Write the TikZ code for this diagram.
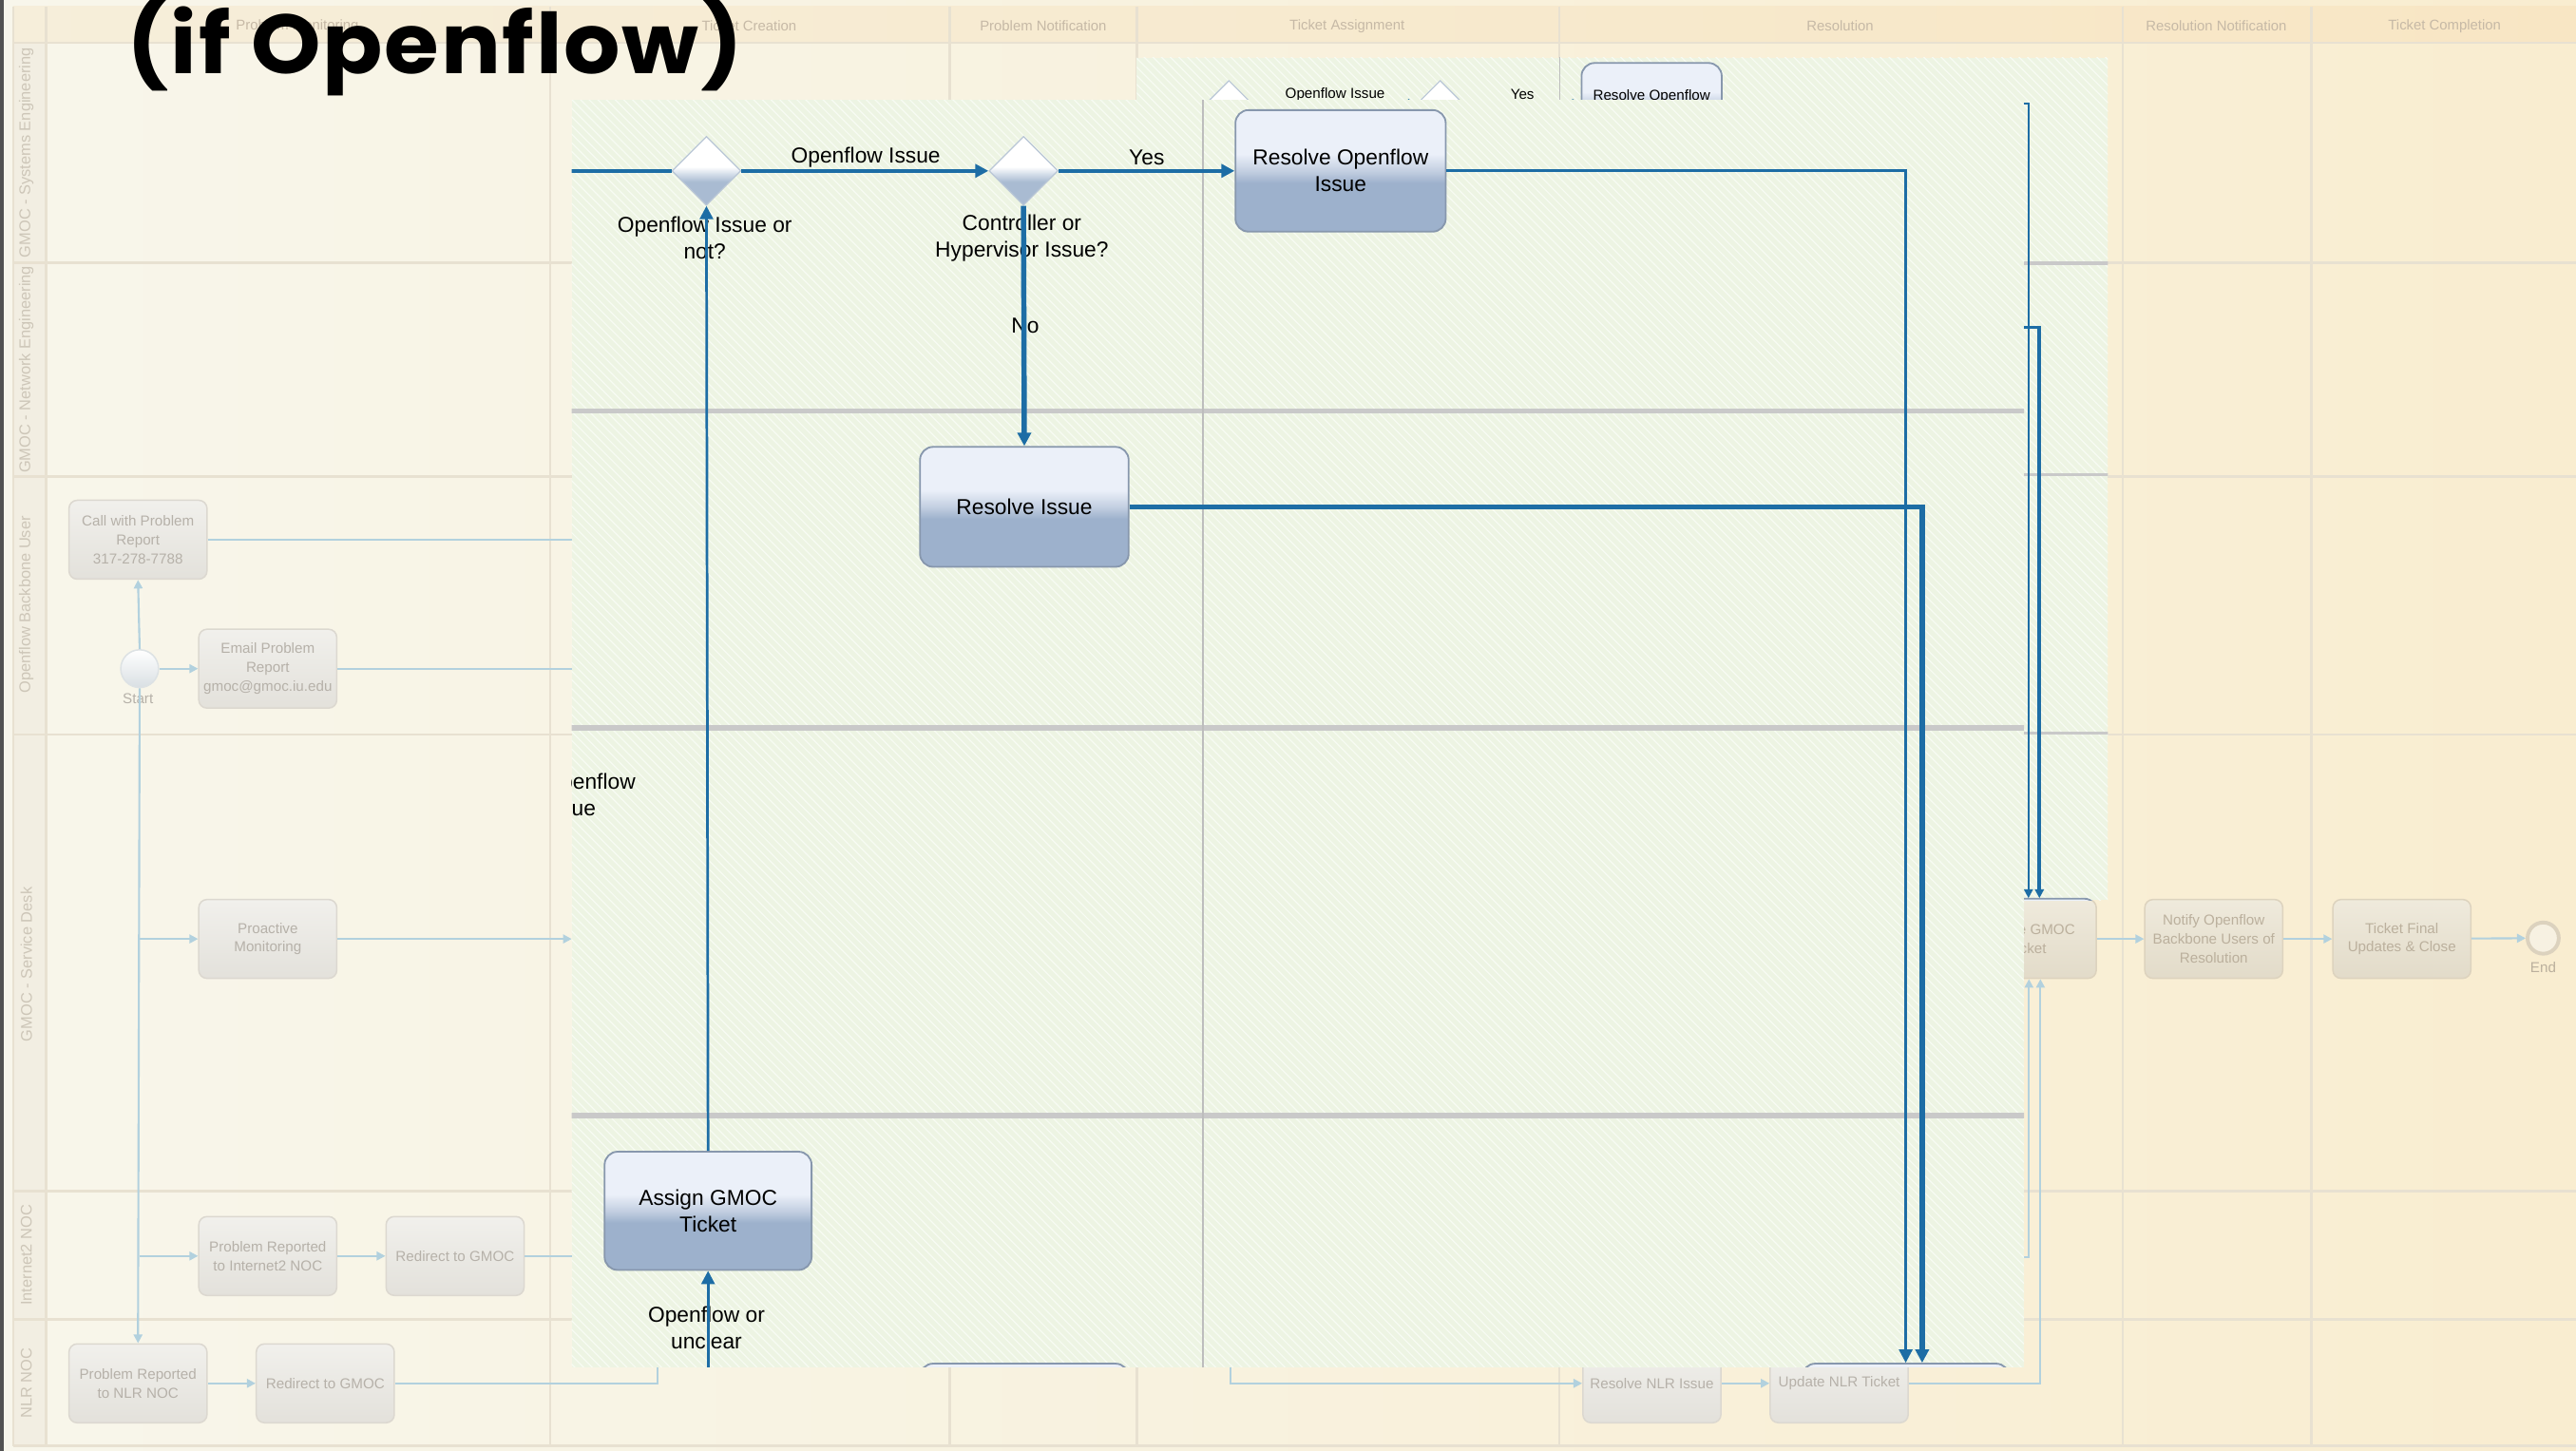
\documentclass[tikz,border=0pt]{standalone}
\usepackage{fontspec}
\setmainfont{Liberation Sans}
\newfontfamily\titlefont{Poppins}[FakeStretch=1.06, LetterSpace=2]
\usetikzlibrary{arrows.meta,shapes.geometric,patterns}

\definecolor{creamL}{HTML}{F8F6EB}
\definecolor{creamR}{HTML}{F9EDD0}
\definecolor{headL}{HTML}{F6EEDA}
\definecolor{headR}{HTML}{F8E6C4}
\definecolor{laneline}{HTML}{E8E1D1}
\definecolor{lanecol}{HTML}{F2EEE2}
\definecolor{lanetext}{HTML}{CDC6B8}
\definecolor{headtext}{HTML}{C6B9A6}
\definecolor{fadeTop}{HTML}{F1F0EC}
\definecolor{fadeBot}{HTML}{E3E1DB}
\definecolor{fadeDraw}{HTML}{DCD8D0}
\definecolor{fadeText}{HTML}{B6B1A9}
\definecolor{fadeTopR}{HTML}{EFEADC}
\definecolor{fadeBotR}{HTML}{E2DBC9}
\definecolor{fadeDrawR}{HTML}{DDD3BE}
\definecolor{fadeTextR}{HTML}{BBB09D}
\definecolor{fadeLink}{HTML}{B2D1DE}
\definecolor{startBot}{HTML}{D9DFE3}
\definecolor{startEdge}{HTML}{DDE2E4}
\definecolor{endFill}{HTML}{F7F1E2}
\definecolor{endEdge}{HTML}{DCD2BE}
\definecolor{panelgreen}{HTML}{EDF4E3}
\definecolor{hatch}{HTML}{F7FBF3}
\definecolor{flowblue}{HTML}{1D6DA5}
\definecolor{gridgrey}{HTML}{C9C9C9}
\definecolor{colgrey}{HTML}{BDBDBD}
\definecolor{boxT}{HTML}{EBF0F9}
\definecolor{boxM}{HTML}{C3CFE1}
\definecolor{boxB}{HTML}{9DB1CC}
\definecolor{boxEdge}{HTML}{8797AD}
\definecolor{gateB}{HTML}{A9BBD2}
\definecolor{gateM}{HTML}{D6DFEA}
\definecolor{gateEdge}{HTML}{B9C6D6}

% task and gateway fills: light upper half, blue-grey lower half
\pgfdeclareverticalshading{taskshade}{100bp}{color(0bp)=(boxB); color(25bp)=(boxB); color(45bp)=(boxB); color(50bp)=(boxM); color(57bp)=(boxT); color(75bp)=(boxT); color(100bp)=(boxT)}
\pgfdeclareverticalshading{gateshade}{100bp}{color(0bp)=(gateB); color(25bp)=(gateB); color(42bp)=(gateB); color(48bp)=(gateM); color(53bp)=(white); color(75bp)=(white); color(100bp)=(white)}

\newcommand\flfont{\fontsize{7.5}{9.2}\selectfont}
\newcommand\fadefont{\fontsize{5}{6.5}\selectfont}

% the Openflow branch of the process, in the coordinates of the enlarged view;
% #1 scales the line widths and arrow tips, #2 = 1 draws every label
\newcommand\flowcontent[2]{%
  \pgfmathsetmacro\fcLane{1.7*#1}%
  \pgfmathsetmacro\fcCol{0.6*#1}%
  \pgfmathsetmacro\fcMain{1.15*#1}%
  \pgfmathsetmacro\fcThin{0.9*#1}%
  \pgfmathsetmacro\fcThick{1.8*#1}%
  \pgfmathsetmacro\fcTip{4.6*#1}%
  \foreach \yy in {250,443,679} {\draw[gridgrey, line width=\fcLane pt] (0,\yy) -- (1800,\yy);}
  \draw[colgrey, line width=\fcCol pt] (732,-200) -- (732,1100);
  % gateways
  \node[gate] (d1) at (430,104) {};
  \node[gate] (d2) at (623,104) {};
  % tasks
  \node[task, minimum width=25.6mm, minimum height=14.8mm] (rof) at (816,104) {Resolve Openflow\\Issue};
  \node[task, minimum width=25.4mm, minimum height=14.6mm] (ri) at (623.5,308.5) {\ifnum#2=1 Resolve Issue\fi};
  \node[task, minimum width=25.2mm, minimum height=14.4mm] (ag) at (431,737) {\ifnum#2=1 Assign GMOC\\Ticket\fi};
  \node[task, minimum width=25.2mm, minimum height=14.4mm] (ug) at (1160,866) {};
  \node[task, minimum width=25.4mm, minimum height=14.4mm] (bb) at (623.5,866) {};
  \coordinate (fin) at (300,104);
  \coordinate (agin) at (431,900);
  % labels
  \node[flab] at (527,96) {Openflow Issue};
  \node[flab] at (698,96) {Yes};
  \ifnum#2=1
  \node[flab] at (429,145) {Openflow Issue or\\not?};
  \node[flab] at (622,145) {Controller or\\Hypervisor Issue?};
  \node[flab] at (624,198) {No};
  \node[flab] at (430,808) {Openflow or\\unclear};
  \node[flab, align=left, anchor=west] at (329,484) {Openflow\\Issue};
  \fi
  % sequence flows
  \draw[flowblue, line width=\fcMain pt] (fin) -- (d1.west);
  \draw[flowblue, line width=\fcMain pt, -{Triangle[length=\fcTip pt,width=\fcTip pt]}] (d1.east) -- (d2.west);
  \draw[flowblue, line width=\fcMain pt, -{Triangle[length=\fcTip pt,width=\fcTip pt]}] (d2.east) -- (rof.west);
  \draw[flowblue, line width=\fcThick pt, -{Triangle[length=\fcTip pt,width=\fcTip pt]}] (d2.south) -- (ri.north);
  \draw[flowblue, line width=\fcThin pt, -{Triangle[length=\fcTip pt,width=\fcTip pt]}] (rof.east) -| (ug.north);
  \draw[flowblue, line width=\fcThick pt, -{Triangle[length=\fcTip pt,width=\fcTip pt]}] (ri.east) -| ([xshift=2mm]ug.north);
  \draw[flowblue, line width=\fcThin pt, -{Triangle[length=\fcTip pt,width=\fcTip pt]}] (ag.north) -- (d1.south);
  \draw[flowblue, line width=\fcThin pt, -{Triangle[length=\fcTip pt,width=\fcTip pt]}] (agin) -- (ag.south);
}

\begin{document}
\begin{tikzpicture}[x=0.2mm,y=-0.2mm,
  hdr/.style={text=headtext, font=\fontsize{4.9}{6}\selectfont},
  lanelab/.style={text=lanetext, rotate=90, font=\fontsize{5.4}{6}\selectfont},
  fade/.style={rectangle, rounded corners=1mm, draw=fadeDraw, line width=0.5pt,
    top color=fadeTop, bottom color=fadeBot, text=fadeText, align=center,
    font=\fadefont, minimum width=16.8mm, minimum height=9.6mm, inner sep=0pt},
  fadeR/.style={fade, draw=fadeDrawR, top color=fadeTopR, bottom color=fadeBotR, text=fadeTextR},
  flink/.style={draw=fadeLink, line width=0.7pt},
  ftip/.style={-{Triangle[length=3pt,width=3pt]}},
  gate/.style={diamond, minimum width=8.4mm, minimum height=8.4mm, inner sep=0pt,
    shade, shading=gateshade, draw=gateEdge, line width=0.4pt},
  task/.style={rectangle, rounded corners=1.6mm, draw=boxEdge, line width=0.6pt,
    shade, shading=taskshade, align=center, font=\flfont, text=black, inner sep=1pt},
  flab/.style={align=center, font=\flfont, text=black, inner sep=1pt},
  panel/.style={fill=panelgreen},
  hatching/.style={pattern=north west lines, pattern color=hatch}]

\useasboundingbox (0,0) rectangle (1568,883);

% slide background and swimlane frame
\shade[left color=creamL, right color=creamR] (0,0) rectangle (1568,883);
\fill[black!68] (0,0) rectangle (2.5,883);
\shade[left color=headL, right color=headR] (8,4) rectangle (1568,26);
\fill[lanecol] (8,26) rectangle (28,880);
\draw[laneline, line width=0.8pt] (8,26) -- (1568,26);
\foreach \y in {160,290,447,725,803,880} {\draw[laneline, line width=0.8pt] (8,\y) -- (1568,\y);}
\foreach \x in {8,28,335,578,692,949,1292,1407} {\draw[laneline, line width=0.8pt] (\x,4) -- (\x,880);}

% phase headers
\node[hdr] at (181,16) {Problem Monitoring};
\node[hdr] at (456,16) {Ticket Creation};
\node[hdr] at (635,16) {Problem Notification};
\node[hdr] at (820,16) {Ticket Assignment};
\node[hdr] at (1120,16) {Resolution};
\node[hdr] at (1349,16) {Resolution Notification};
\node[hdr] at (1488,16) {Ticket Completion};

% lane names
\node[lanelab] at (16,93) {GMOC - Systems Engineering};
\node[lanelab] at (16,225) {GMOC - Network Engineering};
\node[lanelab] at (16,368) {Openflow Backbone User};
\node[lanelab] at (16,587) {GMOC - Service Desk};
\node[lanelab] at (16,764) {Internet2 NOC};
\node[lanelab] at (16,842) {NLR NOC};

% surrounding process, shown faded
\node[fade] (call) at (84,328.5) {Call with Problem\\Report\\317-278-7788};
\node[circle, draw=startEdge, line width=0.5pt, top color=white, bottom color=startBot,
  minimum size=4.6mm, inner sep=0pt] (start) at (85,407) {};
\node[text=fadeText, font=\fadefont] at (84,425) {Start};
\node[fade] (email) at (163,407) {Email Problem\\Report\\gmoc@gmoc.iu.edu};
\node[fade] (proact) at (163,571.5) {Proactive\\Monitoring};
\node[fade] (pri2) at (163,764.5) {Problem Reported\\to Internet2 NOC};
\node[fade] (redi2) at (277,764.5) {Redirect to GMOC};
\node[fade] (prnlr) at (84,842) {Problem Reported\\to NLR NOC};
\node[fade] (rednlr) at (198,842) {Redirect to GMOC};
\node[fade] (resnlr) at (1005.5,842) {Resolve NLR Issue};
\node[fade] (updnlr) at (1119.5,842) {Update NLR Ticket};
\node[fadeR] (updgmoc) at (1234,571.5) {Update GMOC\\Ticket};
\node[fadeR] (notify) at (1347.5,571.5) {Notify Openflow\\Backbone Users of\\Resolution};
\node[fadeR] (final) at (1462,571.5) {Ticket Final\\Updates \& Close};
\node[circle, draw=endEdge, line width=1.3pt, fill=endFill, minimum size=3.8mm, inner sep=0pt] (end) at (1548,571) {};
\node[text=fadeTextR, font=\fadefont] at (1548,589) {End};

\coordinate (pin1) at (348,328.5);
\coordinate (pin2) at (348,407);
\coordinate (pin3) at (348,571.5);
\coordinate (pin4) at (348,764.5);
\coordinate (pin5) at (400,825);
\coordinate (pin6) at (749,825);
\coordinate (pin7) at (1228,765);

\draw[flink,ftip] (start.north) -- (call.south);
\draw[flink,ftip] (start.south) -- (prnlr.north);
\draw[flink,ftip] (start.east) -- (email.west);
\draw[flink,ftip] (start.south |- proact.west) -- (proact.west);
\draw[flink,ftip] (start.south |- pri2.west) -- (pri2.west);
\draw[flink] (call.east) -- (pin1);
\draw[flink] (email.east) -- (pin2);
\draw[flink,ftip] (proact.east) -- (pin3);
\draw[flink,ftip] (pri2) -- (redi2);
\draw[flink] (redi2.east) -- (pin4);
\draw[flink,ftip] (prnlr) -- (rednlr);
\draw[flink] (rednlr.east) -| (pin5);
\draw[flink,ftip] (pin6) |- (resnlr.west);
\draw[flink,ftip] (resnlr) -- (updnlr);
\draw[flink,ftip] (updnlr.east) -| ([xshift=1.6mm]updgmoc.south);
\draw[flink,ftip] (pin7) -| ([xshift=0.2mm]updgmoc.south);
\draw[flink,ftip] (updgmoc) -- (notify);
\draw[flink,ftip] (notify) -- (final);
\draw[flink,ftip] (final) -- (end);

% highlighted region of the process at its own size
\fill[panel] (692,35) rectangle (1283,548);
\fill[hatching] (692,35) rectangle (1283,548);
\begin{scope}
  \clip (692,35) rectangle (1283,548);
  \begin{scope}[shift={(461.333,-6.333)}, scale=2/3, transform shape]
    \flowcontent{0.667}{0}
  \end{scope}
\end{scope}

% the same region enlarged
\fill[panel] (348,61) rectangle (1232,832);
\fill[hatching] (348,61) rectangle (1232,832);
\begin{scope}
  \clip (348,61) rectangle (1232,832);
  \flowcontent{1}{1}
\end{scope}

% slide title
\node[anchor=base west, inner sep=0pt, text=black,
  font=\titlefont\bfseries\fontsize{29}{32}\selectfont] (title) at (77,45) {(if Openflow)};
\end{tikzpicture}
\end{document}
